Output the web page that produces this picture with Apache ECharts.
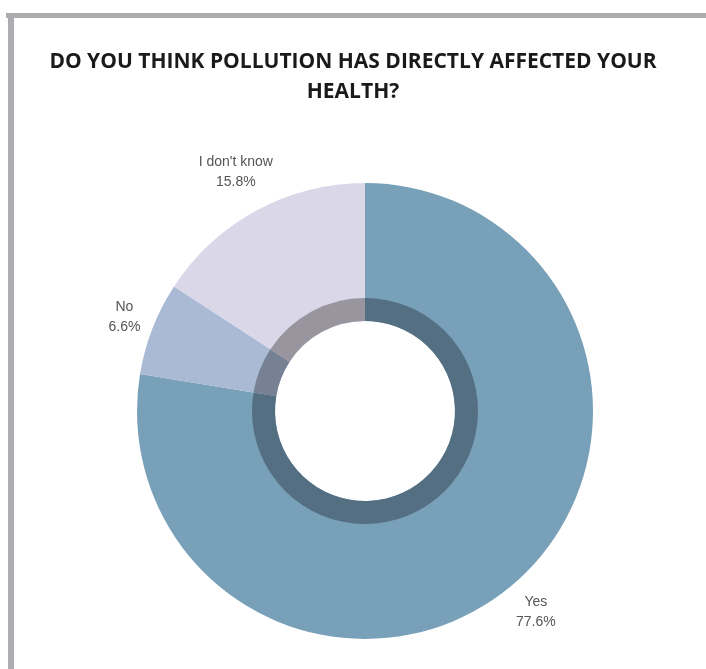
<!DOCTYPE html>
<html>
<head>
<meta charset="utf-8">
<script src="https://cdn.jsdelivr.net/npm/echarts@6/dist/echarts.min.js"></script>
<style>
html,body{margin:0;padding:0;background:#fff;}
#chart{width:706px;height:669px;}
</style>
</head>
<body>
<div id="chart"></div>
<script>
const titleText = 'DO YOU THINK POLLUTION HAS DIRECTLY AFFECTED YOUR\nHEALTH?';
const categories = ['Yes', 'No', "I don't know"];
const values = [77.6, 6.6, 15.8];
const colors = ['#79a0b9', '#aab9d4', '#dad7e9'];
const ringColors = ['#556f82', '#778194', '#99959f'];

const CX = 365, CY = 411, R_IN = 90, R_OUT = 228, RING_OUT = 113;
const total = values.reduce((a, b) => a + b, 0);
const midAngles = [];
(function () {
  let acc = 0;
  values.forEach(v => {
    midAngles.push((acc + v / 2) / total * Math.PI * 2);
    acc += v;
  });
})();

const chart = echarts.init(document.getElementById('chart'));
chart.setOption({
  backgroundColor: '#ffffff',
  animation: false,
  title: {
    text: titleText,
    left: 'center',
    top: 42,
    textStyle: {
      fontFamily: 'Open Sans',
      fontWeight: 'bold',
      fontSize: 21,
      lineHeight: 30,
      color: '#1a1a1a'
    }
  },
  graphic: [
    { type: 'rect', shape: { x: 6, y: 13, width: 700, height: 5 }, style: { fill: '#acacb1' }, silent: true },
    { type: 'rect', shape: { x: 8, y: 13, width: 6, height: 656 }, style: { fill: '#acacb1' }, silent: true }
  ],
  series: [
    {
      type: 'pie',
      center: [CX, CY],
      radius: [R_IN, R_OUT],
      startAngle: 90,
      clockwise: true,
      silent: true,
      itemStyle: { borderWidth: 0 },
      label: {
        show: true,
        position: 'outside',
        formatter: p => p.name + '\n' + p.value.toFixed(1) + '%',
        fontFamily: 'Liberation Sans',
        fontSize: 14,
        lineHeight: 20,
        color: '#555555'
      },
      labelLine: { show: false },
      labelLayout: function (params) {
        const a = midAngles[params.dataIndex];
        const ux = Math.sin(a), uy = -Math.cos(a);
        const w = params.labelRect.width / 2, h = params.labelRect.height / 2;
        const d = R_OUT + 8 + Math.abs(ux) * w + Math.abs(uy) * h;
        return { x: CX + ux * d, y: CY + uy * d, align: 'center', verticalAlign: 'middle' };
      },
      data: categories.map((c, i) => ({ name: c, value: values[i], itemStyle: { color: colors[i] } }))
    },
    {
      type: 'pie',
      center: [CX, CY],
      radius: [R_IN, RING_OUT],
      startAngle: 90,
      clockwise: true,
      silent: true,
      itemStyle: { borderWidth: 0 },
      label: { show: false },
      labelLine: { show: false },
      data: categories.map((c, i) => ({ name: c, value: values[i], itemStyle: { color: ringColors[i] } }))
    }
  ]
});
</script>
</body>
</html>
